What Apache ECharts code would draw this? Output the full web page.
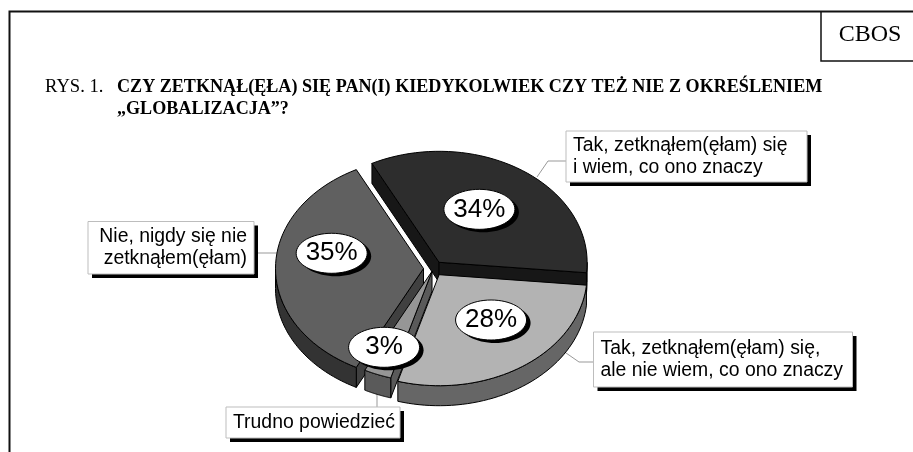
<!DOCTYPE html>
<html>
<head>
<meta charset="utf-8">
<style>html,body{margin:0;padding:0;background:#fff}#c{width:913px;height:452px}</style>
<script src="https://cdn.jsdelivr.net/npm/echarts@6/dist/echarts.min.js"></script>
</head>
<body>
<div id="c"></div>
<script>
const categories = [
  'Tak, zetknąłem(ęłam) się\ni wiem, co ono znaczy',
  'Tak, zetknąłem(ęłam) się,\nale nie wiem, co ono znaczy',
  'Trudno powiedzieć',
  'Nie, nigdy się nie\nzetknąłem(ęłam)'
]
const shares = [34, 28, 3, 35]
const percentLabels = ['34%', '28%', '3%', '35%']

// kolory: gora, sciana boczna, sciana ciecia
const topColors = ['#2d2d2d', '#b3b3b3', '#969696', '#606060']
const wallColors = ['#333333', '#666666', '#5a5a5a', '#333333']
const cutColors = ['#171717', '#666666', '#5a5a5a', '#404040']
const paintOrder = [1, 3, 4, 2]
// srodki dymkow w jednostkach kola
const bubbleSpots = [[0.31, 0.533], [0.389, -0.464], [-0.334, -0.71], [-0.688, 0.137]]

const START_ANGLE = 117
const EXPLODE = [10 / 148, 10 / 148, 4 / 148, 10 / 148]
const DEPTH = 20 / 111

const rad = d => d * Math.PI / 180
const sliceAngles = shares.map((v, i) => {
  const before = shares.slice(0, i).reduce((a, b) => a + b, 0)
  return [START_ANGLE - before * 3.6, START_ANGLE - (before + v) * 3.6]
})

function arcPoints(from, to, pt, d) {
  const pts = []
  for (let k = 0; k <= 48; k++) pts.push(pt(from + (to - from) * k / 48, 1, d))
  return pts
}

function renderSlice(params, api) {
  const i = params.dataIndex
  const [a0, a1] = sliceAngles[i]
  const mid = rad((a0 + a1) / 2)
  const ox = Math.cos(mid) * EXPLODE[i]
  const oy = Math.sin(mid) * EXPLODE[i]
  const pt = (a, r, d) => api.coord([ox + Math.cos(rad(a)) * r, oy + Math.sin(rad(a)) * r - (d || 0)])

  const z = paintOrder[i] * 3
  const border = { stroke: '#000', lineWidth: 1, lineJoin: 'round' }
  const children = []
  const face = a => ({
    type: 'polygon', z2: z,
    shape: { points: [pt(a, 0), pt(a, 1), pt(a, 1, DEPTH), pt(a, 0, DEPTH)] },
    style: { fill: cutColors[i], ...border }
  })
  // widoczne sciany ciecia: normalna zwrocona do patrzacego
  if (Math.sin(rad(a0 + 90)) < 0) children.push(face(a0))
  if (Math.sin(rad(a1 - 90)) < 0) children.push(face(a1))
  // sciana boczna tylko na przedniej polowce kola
  const w0 = Math.min(a0, 0)
  const w1 = Math.max(a1, -180)
  children.push({
    type: 'polygon', z2: z + 1,
    shape: { points: arcPoints(w0, w1, pt, 0).concat(arcPoints(w1, w0, pt, DEPTH)) },
    style: { fill: wallColors[i], ...border }
  })
  children.push({
    type: 'polygon', z2: z + 2,
    shape: { points: [pt(a0, 0)].concat(arcPoints(a0, a1, pt, 0)) },
    style: { fill: topColors[i], ...border }
  })

  const [bx, by] = api.coord(bubbleSpots[i])
  children.push(
    { type: 'ellipse', z2: 30, shape: { cx: bx + 4, cy: by + 3, rx: 35.5, ry: 20 }, style: { fill: '#000' } },
    { type: 'ellipse', z2: 31, shape: { cx: bx, cy: by, rx: 35.5, ry: 20 }, style: { fill: '#fff', stroke: '#000', lineWidth: 1 } },
    { type: 'text', z2: 32, style: { text: percentLabels[i], x: bx, y: by, align: 'center', verticalAlign: 'middle', font: '26px "Liberation Sans"', fill: '#000' } }
  )
  return { type: 'group', children }
}

const SANS = '19.4px "Liberation Sans"'
function callout(x, y, w, h, lines, align, leader) {
  const els = [
    { type: 'polyline', z: 1, shape: { points: leader }, style: { stroke: '#999', lineWidth: 1, fill: null } },
    { type: 'rect', z: 5, shape: { x: x + 4, y: y + 4, width: w, height: h }, style: { fill: '#000' } },
    { type: 'rect', z: 6, shape: { x, y, width: w, height: h }, style: { fill: '#fff', stroke: '#bdbdbd', lineWidth: 1 } }
  ]
  const tx = align === 'right' ? x + w - 7 : x + 7
  lines.forEach((t, k) => {
    const cy = y + h / 2 + (k - (lines.length - 1) / 2) * 21.7
    els.push({ type: 'text', z: 7, style: { text: t, x: tx, y: cy, align, verticalAlign: 'middle', font: SANS, fill: '#000' } })
  })
  return els
}

const serif = (text, x, y, font, align) => ({
  type: 'text', z: 7,
  style: { text, x, y, align: align || 'left', verticalAlign: 'middle', font, fill: '#000' }
})

const chart = echarts.init(document.getElementById('c'), null, { renderer: 'canvas' })
chart.setOption({
  animation: false,
  backgroundColor: '#fff',
  grid: { left: 285.5, top: 157.5, width: 296, height: 222 },
  xAxis: { type: 'value', min: -1, max: 1, show: false },
  yAxis: { type: 'value', min: -1, max: 1, show: false },
  tooltip: { show: false },
  series: [{
    type: 'custom',
    clip: false,
    silent: true,
    z: 3,
    coordinateSystem: 'cartesian2d',
    data: shares.map((v, i) => ({ name: categories[i], value: [0, 0, v] })),
    encode: { x: 0, y: 1 },
    renderItem: renderSlice
  }],
  graphic: { elements: [
    { type: 'polyline', z: 8, shape: { points: [[913, 11.5], [9.5, 11.5], [9.5, 452]] }, style: { stroke: '#111', lineWidth: 2, fill: null } },
    { type: 'polyline', z: 8, shape: { points: [[821, 12], [821, 61], [913, 61]] }, style: { stroke: '#111', lineWidth: 1.5, fill: null } },
    serif('CBOS', 870, 35, '24px "Liberation Serif"', 'center'),
    serif('RYS. 1.', 45, 87, '18.6px "Liberation Serif"'),
    serif('CZY ZETKNĄŁ(ĘŁA) SIĘ PAN(I) KIEDYKOLWIEK CZY TEŻ NIE Z OKREŚLENIEM', 117, 87, 'bold 18.1px "Liberation Serif"'),
    serif('„GLOBALIZACJA”?', 117, 109, 'bold 18.1px "Liberation Serif"'),
    ...callout(566, 131, 241, 51, categories[0].split('\n'), 'left', [[566, 161], [548, 161], [537, 177]]),
    ...callout(593.5, 332, 259, 55, categories[1].split('\n'), 'left', [[593, 362], [579, 362], [556, 346]]),
    ...callout(226, 407, 174, 31, categories[2].split('\n'), 'left', [[377, 407], [377, 390]]),
    ...callout(88, 221.5, 166, 52.5, categories[3].split('\n'), 'right', [[254, 253], [277, 253]])
  ] }
})
</script>
</body>
</html>
